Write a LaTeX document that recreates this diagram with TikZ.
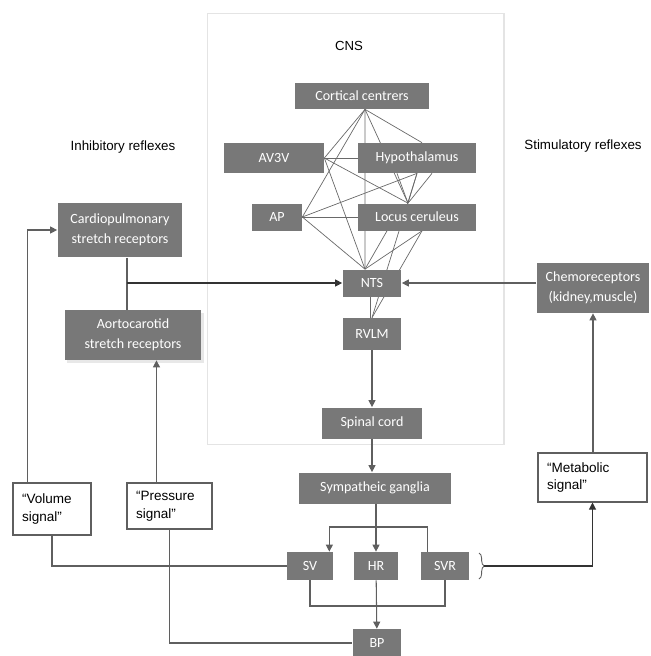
\documentclass[tikz,border=0pt]{standalone}
\usepackage{fontspec}
\setmainfont{Liberation Sans}
\newfontfamily\boxfont{Carlito}
\usepackage{tikz}
\usetikzlibrary{arrows.meta,calc,backgrounds,shadows,decorations.pathreplacing}
\definecolor{boxgray}{RGB}{120,120,120}
\definecolor{linegray}{RGB}{95,95,95}
\definecolor{webgray}{RGB}{105,105,105}
\definecolor{framegray}{RGB}{228,228,228}

\tikzset{
  grbox/.style={fill=boxgray,text=white,inner sep=0pt,align=center,
    font=\boxfont\fontsize{8}{11.5}\selectfont},
  sigbox/.style={draw=linegray,fill=white,line width=0.6pt,inner xsep=0.18cm,
    inner ysep=0pt,align=left,font=\fontsize{7.7}{10}\selectfont},
  conn/.style={draw=linegray,line width=0.6pt},
  arr/.style={conn,-{Triangle[length=4pt,width=4pt]}},
  web/.style={draw=webgray,line width=0.4pt},
}

\begin{document}
\begin{tikzpicture}[x=0.02cm,y=-0.02cm]
\useasboundingbox (0,0) rectangle (650,656);

\node[draw=framegray,line width=0.6pt,minimum width=5.94cm,minimum height=8.64cm,inner sep=0pt] (cns) at (355.5,229) {};
\node[font=\fontsize{7.5}{9}\selectfont] (cnslabel) at (349,46) {CNS};
\node[font=\fontsize{7.6}{9}\selectfont] (inhib) at (123,147) {Inhibitory reflexes};
\node[font=\fontsize{7.6}{9}\selectfont] (stim) at (583,146) {Stimulatory reflexes};

\node[grbox,minimum width=2.7cm,minimum height=0.52cm] (cortical) at (362,96) {Cortical centrers};
\node[grbox,minimum width=2.0cm,minimum height=0.6cm] (av3v) at (274,158) {AV3V};
\node[grbox,minimum width=2.36cm,minimum height=0.6cm] (hypo) at (417,158) {Hypothalamus};
\node[grbox,minimum width=1.0cm,minimum height=0.54cm] (ap) at (277,217) {AP};
\node[grbox,minimum width=2.36cm,minimum height=0.54cm] (lc) at (417,217) {Locus ceruleus};
\node[grbox,minimum width=1.18cm,minimum height=0.54cm] (nts) at (372,283) {NTS};
\node[grbox,minimum width=1.18cm,minimum height=0.64cm] (rvlm) at (372,334) {RVLM};
\node[grbox,minimum width=2.02cm,minimum height=0.62cm] (spinal) at (372,423) {Spinal cord};
\node[grbox,minimum width=3.04cm,minimum height=0.62cm] (ganglia) at (375,488) {Sympatheic ganglia};
\node[grbox,minimum width=0.92cm,minimum height=0.56cm] (sv) at (310,566) {SV};
\node[grbox,minimum width=0.9cm,minimum height=0.56cm] (hr) at (376,566) {HR};
\node[grbox,minimum width=0.96cm,minimum height=0.56cm] (svr) at (445,566) {SVR};
\node[grbox,minimum width=0.98cm,minimum height=0.56cm] (bp) at (377,643) {BP};

\node[grbox,minimum width=2.5cm,minimum height=1.1cm] (cardio) at (120,230) {Cardiopulmonary\\stretch receptors};
\node[grbox,minimum width=2.74cm,minimum height=1.0cm,
  drop shadow={shadow xshift=1.5pt,shadow yshift=-1.5pt,fill=gray!35}] (aorto) at (133,335) {Aortocarotid\\stretch receptors};
\node[grbox,minimum width=2.26cm,minimum height=1.0cm] (chemo) at (593,288) {Chemoreceptors\\(kidney,muscle)};

\node[sigbox,text width=1.2cm,minimum height=1.04cm] (volume) at (52,509) {“Volume\\signal”};
\node[sigbox,text width=1.34cm,minimum height=0.92cm] (pressure) at (169.5,506) {“Pressure\\signal”};
\node[sigbox,text width=1.82cm,minimum height=0.98cm] (metabolic) at (592.5,477.5) {“Metabolic\\signal”};

\coordinate (cc) at ([xshift=0.06cm]cortical.south);
\coordinate (lchub) at ([xshift=-0.18cm]lc.north);
\coordinate (ntshub) at ([xshift=-0.14cm]nts.north);
\begin{scope}[on background layer]
\draw[web] (cc) -- (av3v.east);
\draw[web] (cc) -- (ap.east);
\draw[web] (cc) -- (ntshub);
\draw[web] (cc) -- (lchub);
\draw[web] (cc) -- ([xshift=0.1cm]hypo.north);
\draw[web] (av3v.east) -- (hypo.west);
\draw[web] (av3v.east) -- (lchub);
\draw[web] (av3v.east) -- (ntshub);
\draw[web] (ap.east) -- (hypo.south);
\draw[web] (ap.east) -- (lc.west);
\draw[web] (ap.east) -- (ntshub);
\draw[web] ([xshift=-0.4cm]hypo.south) -- (lchub);
\draw[web] (hypo.south) -- (lchub);
\draw[web] ([xshift=0.3cm]hypo.south) -- (lchub);
\draw[web] (hypo.south) -- (rvlm.north);
\draw[web] ([xshift=-0.6cm]lc.south) -- (ntshub);
\draw[web] ([xshift=0.1cm]lc.south) -- (ntshub);
\draw[web] ([xshift=0.1cm]lc.south) -- (rvlm.north);
\draw[web] ([xshift=-0.04cm]nts.south) -- ([xshift=-0.04cm]rvlm.north);
\end{scope}

\draw[arr] (rvlm) -- (spinal);
\draw[arr] (spinal) -- (spinal |- ganglia.north);
\draw[arr] (ganglia.south -| hr) -- (hr);
\coordinate (split) at (376,527);
\coordinate (svrtop) at ([xshift=0.14cm]svr.north west);
\coordinate (svtop) at ([xshift=-0.08cm]sv.north east);
\draw[arr] (svrtop) |- (split) -| (svtop);
\coordinate (join) at (376,606);
\draw[conn] (sv.south) |- (join) -| (svr.south);
\draw[arr] (hr) -- (bp);

\draw[arr] ([xshift=0.3cm]volume.north west) |- (cardio.west);
\draw[conn] (volume.south) |- (sv.west);
\coordinate (ptop) at ([xshift=0.6cm]pressure.north west);
\draw[arr] (ptop) -- (ptop |- aorto.south);
\draw[conn] (pressure.south) |- (bp.west);

\coordinate (cs) at ([xshift=0.14cm]cardio.south);
\draw[conn] (cs) -- (cs |- aorto.north);
\draw[conn,-{Triangle[length=4pt,width=4pt]},draw=black!80] (cs |- nts.west) -- (nts.west);
\draw[arr] (chemo.west |- nts.east) -- (nts.east);
\draw[arr] (metabolic.north -| chemo.south) -- (chemo.south);

\draw[draw=linegray,line width=0.5pt,decorate,decoration={brace,amplitude=3pt}] (479,553) -- (479,579);
\coordinate (bt) at (484,566);
\draw[conn,-{Triangle[length=4pt,width=4pt]},draw=black!80] (bt) -| (metabolic.south);
\end{tikzpicture}
\end{document}
